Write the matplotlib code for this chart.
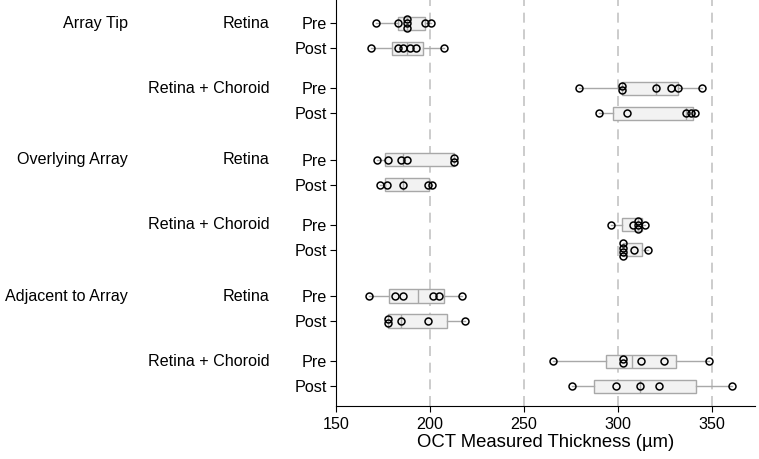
import numpy as np
import matplotlib.pyplot as plt

plt.rcParams['font.family'] = ['Liberation Sans', 'DejaVu Sans']

# Row labels
locations = ["Array Tip", "Overlying Array", "Adjacent to Array"]
layers = ["Retina", "Retina + Choroid"]
phases = ["Pre", "Post"]

# Individual measurements per row (top to bottom)
points = [
    [171, 183, 187.5, 187.5, 187.5, 197, 200.7],
    [168.7, 182.8, 185.4, 189.3, 192.7, 207.5],
    [279.4, 302.3, 302.3, 320.1, 328, 332.1, 344.7],
    [289.9, 304.6, 336.1, 338.6, 340.9],
    [171.6, 177.4, 184.7, 187.6, 212.8, 212.8],
    [173.3, 176.9, 185.4, 198.8, 200.9],
    [296, 308, 310.5, 310.5, 310.5, 314.6],
    [302.7, 302.7, 302.7, 302.7, 308.7, 316],
    [167.5, 181.5, 185.4, 201.4, 204.8, 216.9],
    [177.4, 177.4, 184.7, 198.8, 218.7],
    [265.4, 302.7, 302.7, 312, 324.7, 348.5],
    [275.3, 299.1, 311.9, 321.9, 360.8],
]

# Box summaries
q1 = [182.8, 179.6, 302.0, 297.2, 176.2, 175.7, 302.0, 302.7, 177.9, 177.4, 293.5, 287.4]
med = [187.4, 187.6, 320.1, 336.1, 185.8, 185.4, 310.5, 302.7, 193.4, 184.7, 307.3, 311.9]
q3 = [197.0, 196.4, 332.1, 340.0, 212.8, 199.6, 312.7, 312.7, 207.6, 208.9, 330.8, 341.4]

# y positions from the grouping
ypos = []
for li in range(len(locations)):
    for ly in range(len(layers)):
        for ph in range(len(phases)):
            ypos.append(li * 5.45 + ly * 2.6 + ph)
ypos = np.array(ypos)

fig = plt.figure(figsize=(7.59, 4.59), dpi=100)
ax = fig.add_axes([0.443, 0.115, 0.552, 0.885])

for x in [200, 250, 300, 350]:
    ax.axvline(x, color='#c4c4c4', lw=1.2, ls=(0, (6, 4)), zorder=0)

stats = []
for i, pts in enumerate(points):
    stats.append(dict(q1=q1[i], med=med[i], q3=q3[i],
                      whislo=min(pts), whishi=max(pts), fliers=[]))

ax.bxp(stats, positions=ypos, vert=False, widths=0.53, patch_artist=True,
       showcaps=False,
       boxprops=dict(facecolor='#f2f2f2', edgecolor='#a8a8a8', lw=1.0),
       medianprops=dict(color='#a8a8a8', lw=1.0),
       whiskerprops=dict(color='#a8a8a8', lw=1.0))

# dots, ties stacked vertically
for i, pts in enumerate(points):
    vals, counts = np.unique(pts, return_counts=True)
    for v, c in zip(vals, counts):
        offs = (np.arange(c) - (c - 1) / 2) * 0.17
        ax.plot([v] * c, ypos[i] + offs, 'o', ms=5, mfc='none',
                mec='black', mew=1.1, zorder=3)

ax.set_xlim(150, 373)
ax.set_ylim(15.3, -0.93)
ax.set_xticks([150, 200, 250, 300, 350])
ax.set_yticks(ypos)
ax.set_yticklabels(phases * 6)
ax.tick_params(axis='both', labelsize=11.6, length=4, color='black')
ax.tick_params(axis='y', pad=3)
ax.spines['top'].set_visible(False)
ax.spines['right'].set_visible(False)
ax.set_xlabel("OCT Measured Thickness (µm)", fontsize=13.3, labelpad=2)

# group labels
for li, loc in enumerate(locations):
    y0 = li * 5.45
    ax.annotate(loc, xy=(0, y0), xycoords=('axes fraction', 'data'),
                xytext=(-150, 0), textcoords='offset points',
                ha='right', va='center', fontsize=11.6)
    for ly, lay in enumerate(layers):
        ax.annotate(lay, xy=(0, y0 + ly * 2.6), xycoords=('axes fraction', 'data'),
                    xytext=(-48, 0), textcoords='offset points',
                    ha='right', va='center', fontsize=11.6)

fig.savefig("out.png", dpi=100)
